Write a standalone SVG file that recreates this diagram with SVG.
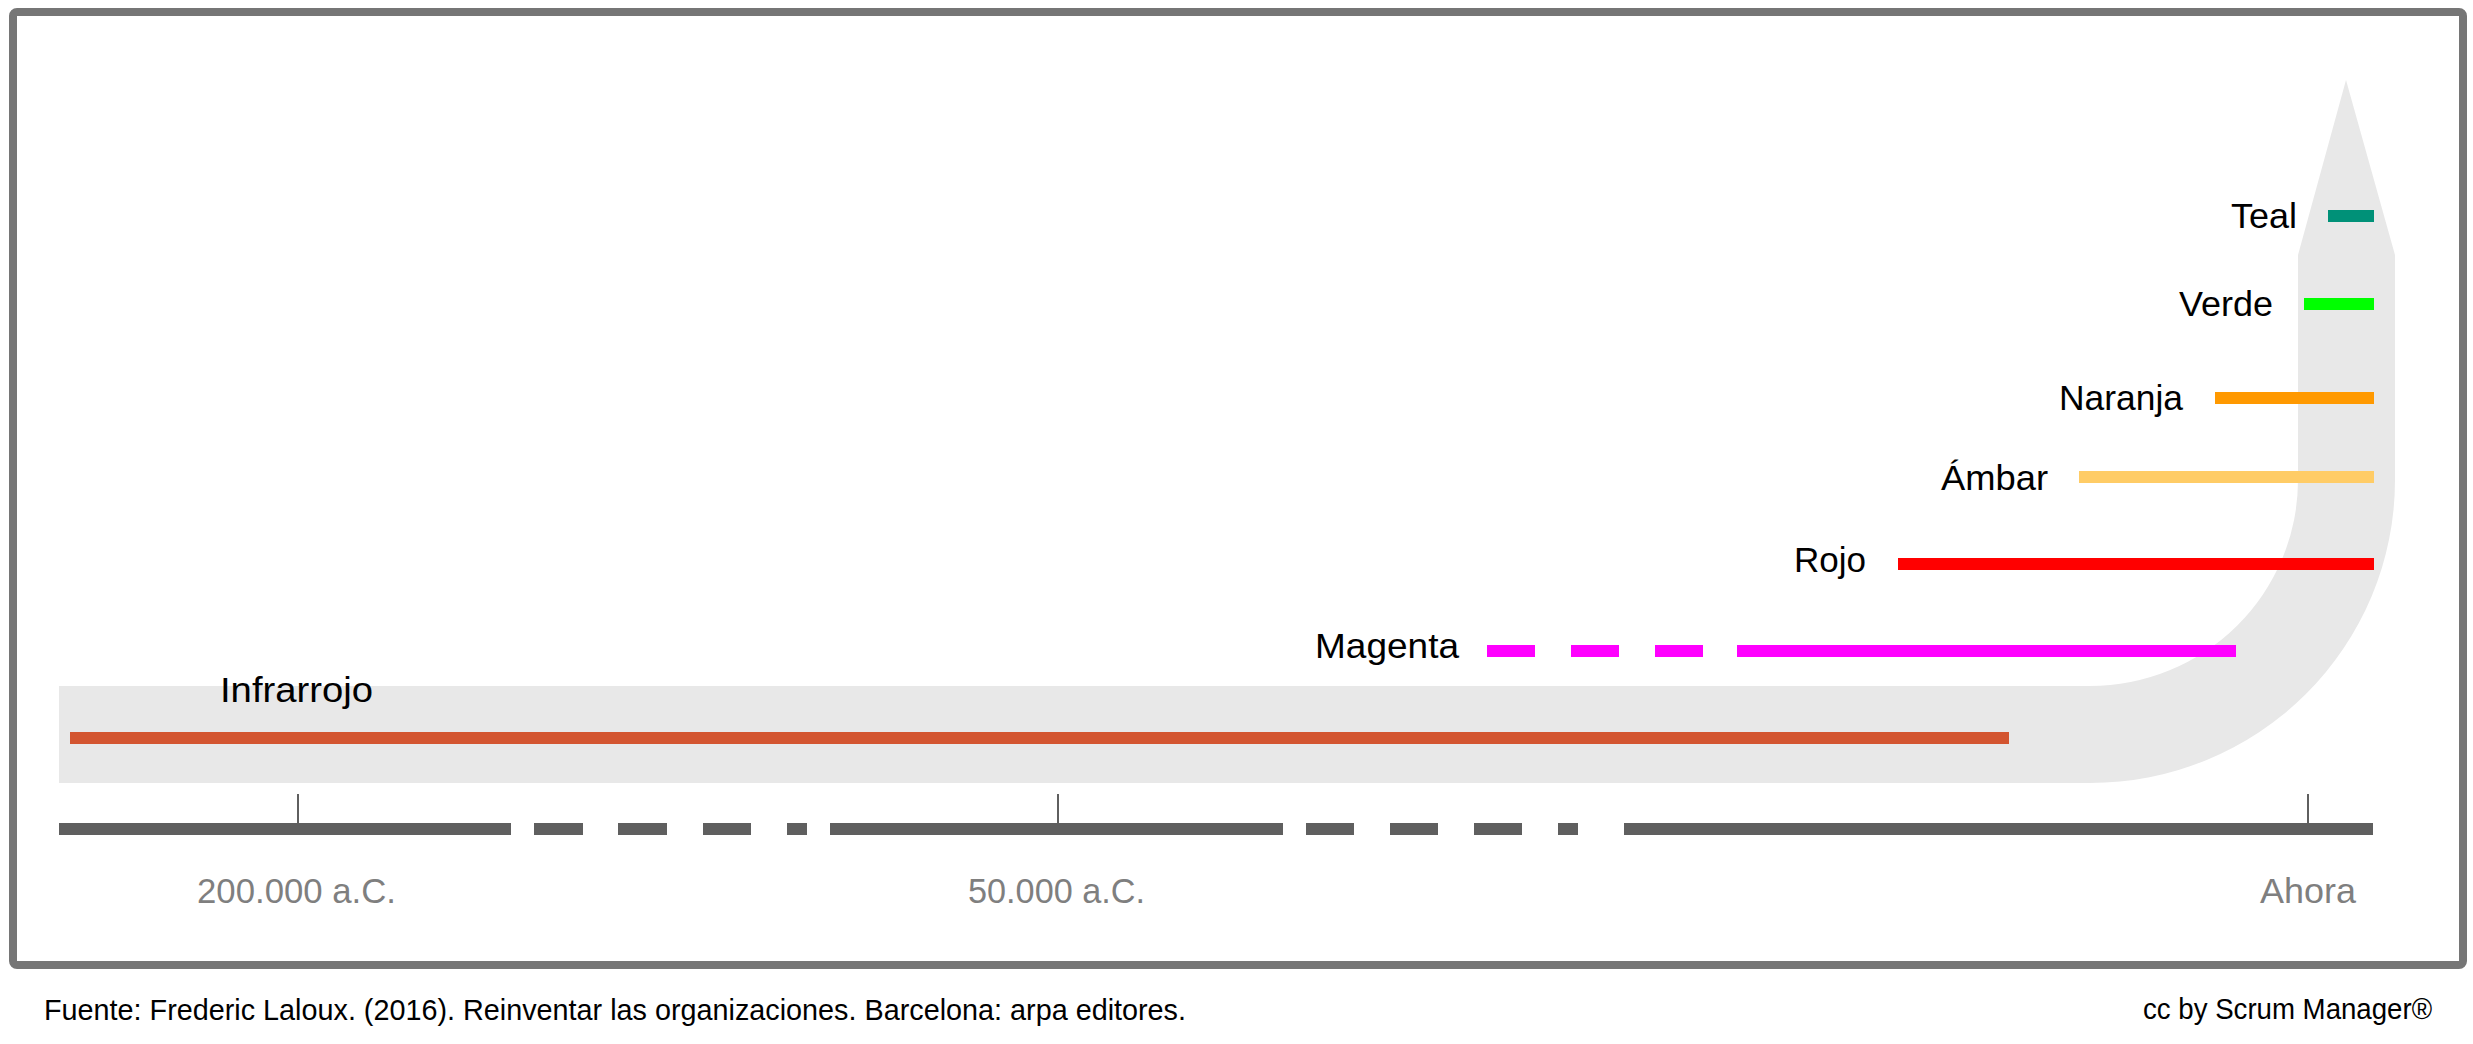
<svg xmlns="http://www.w3.org/2000/svg" width="2473" height="1044" viewBox="0 0 2473 1044">
<style>
.lbl{font-family:"Liberation Sans",Arial,sans-serif;font-size:35px;fill:#000}
.ax{font-family:"Liberation Sans",Arial,sans-serif;font-size:35px;fill:#7f7f7f}
.ft{font-family:"Liberation Sans",Arial,sans-serif;font-size:30px;fill:#000}
.axis{fill:#5f5f5f}
.tick{stroke:#5f5f5f;stroke-width:2}
</style>
<rect width="2473" height="1044" fill="#fff"/>
<rect id="frame" x="13" y="12" width="2450" height="953" rx="4" fill="#fff" stroke="#767676" stroke-width="8"/>
<path id="band" d="M59 686 H2090 A208 206 0 0 0 2298 480 V255 L2346 80 L2395 255 V480 A305 303 0 0 1 2090 783 H59 Z" fill="#e8e8e8"/>
<g id="axis">
<rect class="axis" x="59" y="823" width="452" height="12"/>
<rect class="axis" x="534" y="823" width="49" height="12"/>
<rect class="axis" x="618" y="823" width="49" height="12"/>
<rect class="axis" x="703" y="823" width="48" height="12"/>
<rect class="axis" x="787" y="823" width="20" height="12"/>
<rect class="axis" x="830" y="823" width="453" height="12"/>
<rect class="axis" x="1306" y="823" width="48" height="12"/>
<rect class="axis" x="1390" y="823" width="48" height="12"/>
<rect class="axis" x="1474" y="823" width="48" height="12"/>
<rect class="axis" x="1558" y="823" width="20" height="12"/>
<rect class="axis" x="1624" y="823" width="749" height="12"/>
<line class="tick" x1="298" y1="794" x2="298" y2="824"/>
<line class="tick" x1="1058" y1="794" x2="1058" y2="824"/>
<line class="tick" x1="2308" y1="794" x2="2308" y2="824"/>
<text class="ax" x="197" y="903" textLength="199" lengthAdjust="spacingAndGlyphs">200.000 a.C.</text>
<text class="ax" x="968" y="903" textLength="177" lengthAdjust="spacingAndGlyphs">50.000 a.C.</text>
<text class="ax" x="2260" y="903" textLength="96" lengthAdjust="spacingAndGlyphs">Ahora</text>
</g>
<g id="infrarrojo">
<rect x="70" y="732" width="1939" height="12" fill="#d35530"/>
<text class="lbl" x="220" y="702" textLength="153" lengthAdjust="spacingAndGlyphs">Infrarrojo</text>
</g>
<g id="magenta">
<rect x="1487" y="645" width="48" height="12" fill="#ff00ff"/>
<rect x="1571" y="645" width="48" height="12" fill="#ff00ff"/>
<rect x="1655" y="645" width="48" height="12" fill="#ff00ff"/>
<rect x="1737" y="645" width="499" height="12" fill="#ff00ff"/>
<text class="lbl" x="1315" y="658" textLength="144" lengthAdjust="spacingAndGlyphs">Magenta</text>
</g>
<g id="rojo">
<rect x="1898" y="558" width="476" height="12" fill="#ff0000"/>
<text class="lbl" x="1794" y="572" textLength="72" lengthAdjust="spacingAndGlyphs">Rojo</text>
</g>
<g id="ambar">
<rect x="2079" y="471" width="295" height="12" fill="#ffcc66"/>
<text class="lbl" x="1941" y="490" textLength="107" lengthAdjust="spacingAndGlyphs">Ámbar</text>
</g>
<g id="naranja">
<rect x="2215" y="392" width="159" height="12" fill="#ff9900"/>
<text class="lbl" x="2059" y="410" textLength="124" lengthAdjust="spacingAndGlyphs">Naranja</text>
</g>
<g id="verde">
<rect x="2304" y="298" width="70" height="12" fill="#00ff00"/>
<text class="lbl" x="2179" y="316" textLength="94" lengthAdjust="spacingAndGlyphs">Verde</text>
</g>
<g id="teal">
<rect x="2328" y="210" width="46" height="12" fill="#009178"/>
<text class="lbl" x="2231" y="228" textLength="66" lengthAdjust="spacingAndGlyphs">Teal</text>
</g>
<g id="footer">
<text class="ft" x="44" y="1020" textLength="1142" lengthAdjust="spacingAndGlyphs">Fuente: Frederic Laloux. (2016). Reinventar las organizaciones. Barcelona: arpa editores.</text>
<text class="ft" x="2143" y="1019" textLength="289" lengthAdjust="spacingAndGlyphs">cc by Scrum Manager®</text>
</g>
</svg>
